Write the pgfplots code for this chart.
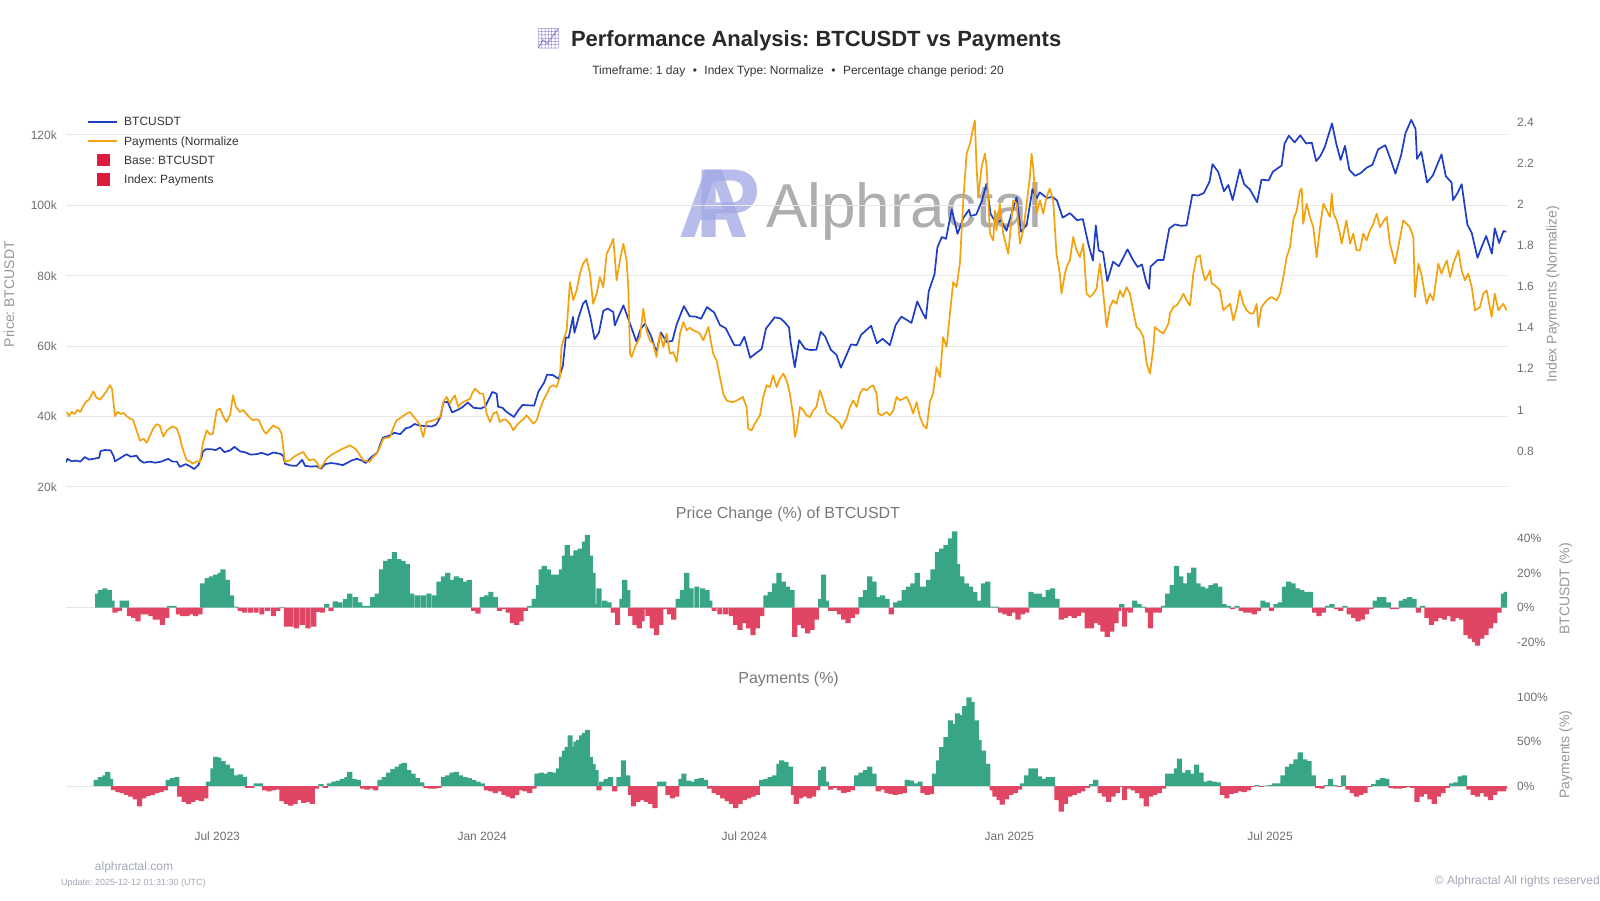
\documentclass[border=0pt]{standalone}
\usepackage{pgfplots}
\pgfplotsset{compat=1.18}
\usepackage{pgfplotstable}
\usepackage{fontspec}
\setmainfont{Liberation Sans}
\newfontfamily\emojifont{Noto Emoji}
\frenchspacing
\definecolor{btcblue}{RGB}{30,62,196}
\definecolor{payorange}{RGB}{242,162,15}
\definecolor{bargreen}{RGB}{56,165,135}
\definecolor{barred}{RGB}{224,69,100}
\definecolor{legred}{RGB}{220,28,60}
\definecolor{gridc}{RGB}{230,230,230}
\definecolor{tickc}{RGB}{110,110,110}
\definecolor{labc}{RGB}{150,150,150}
\definecolor{ptitc}{RGB}{120,120,120}
\definecolor{titc}{RGB}{40,40,40}
\definecolor{subc}{RGB}{51,51,51}
\definecolor{footc}{RGB}{160,166,180}
\definecolor{wmgray}{RGB}{160,160,160}
\definecolor{wmlogo}{RGB}{160,166,228}
\definecolor{emojic}{RGB}{140,130,200}
\newcommand{\fsz}[1]{\fontsize{#1bp}{#1bp}\selectfont}

\pgfplotstableread{
d v
76 27.0
77 28.0
80 27.3
83 27.5
86 27.2
89 28.5
92 27.8
95 28.0
99 28.3
100 30.2
103 30.5
107 30.4
109 28.8
110 27.3
114 28.3
118 29.3
121 28.6
125 28.9
127 27.7
130 26.9
134 27.2
138 26.9
142 27.2
147 28.0
150 27.2
153 27.2
155 25.7
159 26.5
162 25.9
165 25.1
168 26.3
170 28.3
171 30.0
173 30.7
177 30.7
180 30.5
183 31.2
186 29.9
190 30.4
193 31.4
197 30.1
200 29.9
204 29.2
208 29.3
212 29.7
216 29.1
220 29.8
225 29.4
227 28.7
228 26.6
232 26.1
236 26.0
240 27.7
242 26.0
246 25.8
250 25.9
253 25.2
256 26.5
260 26.8
264 26.6
268 26.2
272 27.0
274 27.5
278 28.0
282 27.4
284 26.8
288 28.5
292 29.7
295 33.0
296 34.0
300 34.5
304 35.4
308 35.0
312 36.7
315 37.0
318 37.9
322 37.4
326 37.3
330 37.2
333 37.7
336 39.9
338 44.0
341 44.2
344 41.2
348 41.9
351 42.6
355 44.0
359 42.5
364 42.3
367 42.8
372 47.0
375 46.5
376 42.8
379 42.5
382 41.3
387 39.9
390 41.8
393 43.3
397 43.2
401 43.1
404 47.1
408 49.7
410 51.9
414 51.8
418 50.7
421 54.5
423 62.5
425 62.4
428 68.3
429 63.8
432 68.3
435 72.1
437 73.0
440 68.4
443 62.0
446 63.8
449 70.0
452 70.7
456 69.7
457 65.9
463 71.6
467 67.1
472 61.3
475 64.9
478 66.4
482 63.1
486 58.3
489 63.9
493 61.2
497 61.5
500 66.2
505 71.4
509 68.5
513 68.4
517 67.8
521 71.1
526 69.6
530 66.0
534 65.1
540 60.3
544 60.3
547 62.7
551 56.7
555 58.0
559 59.2
562 65.0
566 67.1
568 68.2
572 67.9
575 66.8
578 65.3
579 61.4
582 54.0
585 61.7
589 59.3
593 58.9
597 59.0
600 64.1
603 62.8
607 59.0
611 57.5
614 53.9
618 57.6
621 60.5
625 60.3
628 63.2
635 65.8
639 60.8
643 62.1
648 60.3
652 66.0
656 68.4
660 67.4
663 66.6
667 72.7
671 69.3
673 67.8
675 75.6
679 80.4
681 88.0
684 91.0
687 90.5
691 98.9
695 91.9
699 96.4
703 98.8
704 97.0
708 97.4
712 101.4
715 106.1
718 97.5
722 94.9
725 95.8
729 92.8
732 97.0
736 102.3
739 92.5
743 94.5
747 104.6
750 102.0
752 103.7
757 102.1
761 102.4
764 101.4
768 96.5
773 97.8
778 95.8
782 96.1
786 88.7
789 84.3
791 94.3
793 87.2
796 86.7
799 78.5
803 84.0
807 82.7
813 87.5
817 84.4
820 82.5
823 83.2
826 78.2
828 76.3
829 82.6
834 84.5
838 84.5
842 93.4
846 94.6
850 94.2
854 94.3
858 103.0
862 102.8
866 103.5
870 106.8
872 111.7
876 109.5
880 104.0
883 105.8
886 101.5
891 110.2
894 106.0
898 104.5
903 100.9
906 107.3
911 107.1
914 109.6
920 111.3
922 117.5
925 119.8
929 117.9
933 119.9
937 117.6
941 117.8
944 112.6
947 114.1
950 116.6
955 123.3
958 117.4
961 112.9
964 116.9
967 110.1
971 108.4
975 109.2
979 110.7
983 111.5
987 115.9
992 117.1
996 112.7
999 109.0
1003 114.3
1006 120.5
1010 124.3
1013 121.7
1014 113.2
1017 115.2
1021 106.5
1025 108.5
1031 114.5
1034 108.3
1038 106.5
1039 101.5
1042 103.4
1045 106.0
1049 94.5
1052 92.2
1056 85.1
1059 88.3
1062 91.3
1066 86.3
1068 93.5
1071 89.3
1074 92.7
1076 92.5
}\btcdata

\pgfplotstableread{
d v
76.5 0.99
78 0.97
80 0.99
82 0.98
84 1.00
86 0.99
88 1.02
90 1.04
92 1.05
95 1.09
97 1.06
99.6 1.05
102 1.07
104 1.09
106.5 1.12
108 1.10
110 0.97
112 0.99
114 0.98
116 0.985
118 0.97
120 0.96
122.7 0.95
125 0.90
127.4 0.85
130 0.86
132 0.84
134 0.87
136.6 0.91
139 0.93
141 0.925
143.6 0.87
146 0.90
148 0.91
150 0.92
152.8 0.91
155 0.87
156 0.836
158 0.79
159.8 0.755
162 0.75
164 0.738
167 0.75
169 0.747
171 0.836
173.7 0.90
176 0.88
178 0.884
180.6 0.998
183 1.006
185 0.97
187.5 0.941
190 0.98
192 1.071
194 1.014
196.8 0.99
199 1.00
201 0.982
204 0.96
206 0.949
208 0.955
210 0.949
213 0.90
215 0.884
218 0.91
220 0.925
222 0.915
224 0.909
225.7 0.884
228 0.747
231.5 0.755
234 0.77
236 0.779
239 0.79
240.8 0.795
243 0.77
245 0.755
248 0.76
250 0.747
252.3 0.714
255 0.74
257 0.763
260 0.78
261.6 0.787
265 0.80
268 0.811
271 0.82
273 0.828
276 0.815
278 0.803
280 0.78
282.4 0.755
285 0.75
287 0.747
289 0.77
291.7 0.787
294 0.82
296.3 0.86
299 0.865
301 0.868
303 0.91
305.5 0.949
308 0.96
311 0.975
314.8 0.99
317 0.97
319.5 0.949
321.8 0.925
324 0.868
326.4 0.941
329 0.945
331 0.949
333 0.955
335.7 0.965
338 1.038
340.3 1.063
342.6 1.03
344 1.05
346 1.071
348.4 1.014
350 1.03
351.9 1.038
354 1.045
356.5 1.054
358 1.08
360 1.103
363.4 1.079
365.7 1.079
368 0.982
370.4 0.941
372.7 0.982
375 0.99
377.3 0.941
380 0.955
382 0.949
384.5 0.93
386.6 0.90
388.9 0.925
391.2 0.941
393.5 0.955
395.8 0.973
398 0.955
400.4 0.933
402.8 0.949
405 1.00
407.4 1.046
410 1.08
412 1.111
414 1.12
416.6 1.111
419 1.16
420 1.306
421.3 1.338
423.6 1.387
425.9 1.622
428.2 1.533
430.5 1.581
432.8 1.662
435 1.711
437.5 1.735
439.8 1.662
442 1.516
444.4 1.565
446.7 1.646
449 1.597
451.4 1.759
453.7 1.792
456 1.832
458.3 1.63
460.6 1.727
463 1.808
465.2 1.727
466.4 1.597
467.6 1.273
468.7 1.257
471 1.306
474.5 1.354
476.8 1.492
479 1.387
481.4 1.338
483.7 1.322
486 1.257
488.4 1.371
490.7 1.306
493 1.371
495.3 1.273
497.6 1.281
500 1.233
502.3 1.371
504.6 1.427
507 1.387
509 1.40
511.5 1.387
514 1.38
516 1.371
518.5 1.338
522 1.403
524 1.322
525.4 1.273
527.7 1.241
530 1.16
532.3 1.079
534.7 1.046
537 1.04
539.3 1.038
541.5 1.045
544 1.054
546 1.063
548.5 1.014
549.7 0.909
552 0.90
554.3 0.933
557.8 0.973
560 1.06
562.4 1.12
564.7 1.111
567 1.168
569.4 1.111
571.7 1.152
574 1.176
576.3 1.144
578.6 1.079
581 0.965
582 0.868
583.3 0.90
585.6 1.014
588 0.998
590.2 0.973
592.5 0.965
594.8 0.998
597 1.014
599.5 1.095
601.8 1.046
604 0.99
606.4 0.973
608.7 0.965
611 0.949
613.3 0.933
614.5 0.909
616 0.93
618 0.957
620.3 1.014
622.6 1.046
625 1.014
627.2 1.079
629.5 1.103
631.8 1.095
634.2 1.111
636.5 1.119
638.8 1.079
640 0.982
642.3 0.973
645.7 0.99
648 0.973
650.4 0.998
652.7 1.063
655 1.046
657.3 1.054
659.6 1.063
662 1.03
664.2 0.982
666.6 1.038
668.9 0.965
671.2 0.925
673.5 0.909
675.8 1.038
678 1.079
680.4 1.208
682.8 1.16
685 1.354
687.4 1.306
689.7 1.468
692 1.622
694.3 1.597
696.6 1.711
699 2.019
701.3 2.246
703.6 2.294
706 2.375
707 2.408
708.2 2.181
709.4 2.035
711.7 2.181
714 2.246
715.2 2.181
717.5 1.857
719.8 1.824
721 1.97
722 1.873
724.4 2.003
726.7 1.857
729 1.792
730.2 1.759
733.7 2.019
736 2.003
738.3 1.808
740.6 1.873
743 2.003
745.2 2.132
746.4 2.246
747.5 2.181
749.9 1.954
752.2 2.019
754.5 1.954
756.8 2.035
759 2.076
761.4 2.019
763.7 1.759
766 1.662
767.2 1.565
769.5 1.662
771 1.70
773 1.727
775.3 1.841
777.6 1.776
780 1.743
782.3 1.808
784.6 1.565
787 1.549
789.2 1.565
791.5 1.589
793.8 1.711
796 1.581
798.5 1.403
800.8 1.50
803 1.533
805.4 1.516
807.7 1.581
810 1.549
812.3 1.597
814.7 1.565
817 1.48
819.3 1.403
821.7 1.387
824 1.354
826.3 1.225
828.6 1.176
831 1.306
832 1.403
834.4 1.387
837.9 1.371
841.4 1.419
842.5 1.468
844.8 1.50
847.2 1.508
849.5 1.533
851.8 1.565
854 1.533
856.4 1.508
858.7 1.662
861 1.743
863.4 1.751
864.5 1.695
866.8 1.63
868.5 1.65
870.3 1.678
871.5 1.614
873.8 1.605
877.2 1.581
879.6 1.484
881.9 1.50
884.2 1.516
886.5 1.435
889 1.50
891 1.581
893.4 1.516
895.7 1.484
898 1.47
900.4 1.468
902.7 1.516
903.8 1.403
906 1.50
909.6 1.533
913 1.549
916.6 1.533
918.9 1.565
921.2 1.646
923.5 1.743
925.8 1.792
928.1 1.922
930.5 1.97
932.8 2.067
934 2.076
935 1.905
937.4 2.003
939.7 1.938
942 1.889
944.3 1.743
946.7 1.889
949 2.003
951.3 1.97
953.6 1.938
954.8 2.051
956 1.954
958.2 1.922
960.5 1.857
961.7 1.808
965 1.922
967.5 1.808
969.8 1.857
972 1.776
974.4 1.776
976.7 1.857
979 1.824
981.4 1.873
983.7 1.905
986 1.954
988.3 1.889
991 1.92
993 1.938
995.2 1.808
997.6 1.743
998.7 1.711
1001 1.792
1004.5 1.922
1006.8 1.905
1009 1.889
1011.5 1.841
1012.6 1.549
1015 1.711
1017 1.662
1019 1.58
1020.7 1.516
1023 1.565
1025.3 1.533
1028.8 1.711
1031 1.662
1034.6 1.727
1037 1.646
1039.2 1.711
1042.7 1.776
1045 1.678
1047.3 1.63
1049.6 1.662
1052 1.597
1054.3 1.484
1057.7 1.50
1060 1.565
1062.4 1.581
1065.8 1.452
1068 1.565
1070.5 1.484
1072 1.50
1074 1.516
1076.2 1.484
}\paydata

\pgfplotstableread{
d v
98 8
100 10
103 11
106 10
108 4
110 -3
113 -2
115 4
118 4
120 -5
123 -6
126 -8
129 -4
132 -4
135 -5
138 -7
141 -7
143 -10
146 -6
148 1
151 1
154 -4
157 -5
160 -5
163 -4
166 -5
169 -4
171 14
174 17
177 18
180 19
183 20
185 22
188 16
191 7
194 0.5
197 -2
200 -3
204 -3
208 -3
212 -4
216 -2
220 -5
223 -2
226 0.3
229 -11
232 -11
236 -12
240 -10
244 -12
248 -11
251 -2.5
254 -3
257 2
260 -2
263 3.5
266 3
270 5
273 8
277 6
280 3
283 1
286 1
289 6
292 8
295 22
298 27
301 28
304 32
307 28
310 27
313 25
316 8
320 7
324 7
328 8
332 7
335 15
338 18
341 20
344 16
347 18
350 17
353 15
356 16
359 -2
362 -3.5
365 6
368 7
371 9
374 6
377 -2
380 -1
383 -3
386 -9
389 -10
392 -8
395 -2
398 1
401 5
404 13
406 22
408 24
411 22
414 19
417 19
420 22
422 30
424 36
427 30
430 33
433 34
436 38
438 42
440 30
442 20
444 2
446 11
448 0.5
450 4
453 3
456 -3
459 -10
462 5
464 16
466 10
468 -5
471 -10
474 -12
476 -8
478 -1
480 -5
483 -12
486 -16
489 -10
492 -1
495 -4
498 -7
501 5
504 10
507 20
510 11
514 12
518 11
521 10
523 4
526 -2
530 -4
534 -4
538 -5
541 -10
544 -13
547 -9
550 -12
553 -16
556 -12
559 -5
562 7
565 9
568 14
571 20
574 15
577 12
580 10
582 -17
585 -10
588 -12
591 -15
594 -13
597 -7
600 5
602 19
604 4
607 -2
610 -2
613 -4
616 -7
619 -9
622 -6
625 -4
628 6
631 10
634 18
637 15
640 6
643 7
646 5
649 -4
652 3
655 4
658 10
661 12
664 14
667 20
669 12
672 12
675 16
678 22
681 32
684 34
687 36
690 40
693 44
695 25
698 18
701 14
704 12
707 9
710 4
713 14
716 15
719 0.5
722 0.5
725 -3
728 -4
731 -5
734 -3
737 -7
740 -4
743 -3
746 9
749 8
752 8
755 6
758 10
761 11
764 5
767 -7
770 -6
773 -5
776 -6
779 -5
782 -3
785 -12
788 -12
791 -9
794 -10
796 -14
799 -17
802 -14
805 -9
807 -2
809 2
811 -11
813 -2
815 -3
818 4
821 2
824 0.5
827 -3
829 -12
832 -3
835 -3
838 1
841 8
844 13
847 24
850 18
853 14
856 20
859 23
862 14
865 12
868 11
871 13
874 14
877 12
880 2
883 1
886 -1
889 1
892 -2
895 -3
898 -3
901 -4
904 -2
907 4
910 3
913 -2
916 2
919 3
922 12
925 15
928 14
931 11
934 10
937 9
940 9
943 -3
946 -5
949 -3
952 1
955 2
958 -1
961 -2
964 1
967 -4
970 -6
973 -8
976 -7
979 -4
982 -1
985 4
988 6
991 6
994 3
997 -1
1000 -1
1003 4
1006 5
1009 6
1012 5
1015 -3
1018 1
1021 -6
1024 -10
1027 -8
1030 -6
1033 -7
1036 -5
1039 -8
1042 -6
1045 -7
1048 -16
1051 -18
1054 -20
1056 -22
1059 -18
1062 -16
1065 -12
1068 -9
1071 -3
1074 8
1076 9
}\btcpct

\pgfplotstableread{
d v
97 7
100 10
103 12
105 16
107 8
109 -4.5
112 -7
115 -8
118 -10
121 -12
124 -15
127 -23
130 -14
133 -11
136 -10
139 -8
142 -7
145 -5
147 7
150 9
153 10
155 -12
158 -18
161 -20
164 -18
167 -16
170 -17
173 -14
175 5
178 20
180 33
182 32
185 28
188 24
191 20
194 12
197 13
200 10
202 -2
205 -2
208 3
211 3
214 -5
217 -6
220 -5
223 -4
226 -17
229 -20
232 -22
235 -20
238 -16
241 -19
244 -18
247 -20
250 -3
253 2
256 -2
259 3
262 5
265 6
268 8
271 10
273 16
276 8
279 7
282 -3
285 -4
288 -3
291 -5
294 7
297 10
300 15
303 19
306 22
309 25
311 26
314 18
317 14
320 9
323 4
326 -2
329 -3
332 -3
335 -2
338 10
341 12
344 15
347 16
350 12
353 10
356 9
359 7
362 5
365 3
368 -5
371 -6
374 -8
377 -6
380 -10
383 -12
386 -14
389 -10
392 -5
395 -6
398 -8
401 -3
403 14
406 15
409 14
412 16
415 15
418 20
420 33
422 40
424 44
426 57
428 44
430 50
432 52
434 57
436 60
438 63
440 33
442 25
444 18
446 -5
448 5
451 8
454 10
457 -6
460 10
463 29
466 12
468 -10
470 -23
473 -18
476 -16
479 -18
482 -20
485 -25
488 5
491 5
494 -10
497 -14
500 -12
503 8
505 14
508 6
511 5
514 8
517 9
520 7
523 -3
526 -8
529 -10
532 -14
535 -17
538 -20
541 -25
544 -20
547 -16
550 -14
553 -12
556 -10
559 7
562 8
565 10
568 12
571 25
573 29
576 27
579 22
581 -10
583 -20
586 -14
589 -12
592 -14
595 -12
598 -5
600 18
602 22
604 5
607 -4
610 -2
613 -5
616 -8
619 -7
622 -5
625 12
628 15
631 18
634 22
637 14
640 -6
643 -4
646 -8
649 -9
652 -10
655 -9
658 -8
660 7
663 6
666 3
669 5
671 -8
674 -10
677 -9
679 14
682 29
684 44
687 55
690 74
692 70
695 82
698 80
700 90
703 100
705 95
708 74
710 52
713 40
716 25
719 -5
721 -12
724 -16
726 -21
729 -15
732 -10
735 -8
738 -4
740 3
743 12
746 20
749 20
752 11
755 8
758 10
761 10
764 -16
767 -29
770 -20
773 -12
776 -10
779 -8
782 -6
785 -2
788 2
791 7
794 -8
797 -12
800 -18
803 -12
806 -8
808 -1
811 -16
814 -3
817 -5
820 -8
823 -14
826 -23
829 -12
832 -10
835 -8
838 -3
841 14
844 14
847 20
849 31
852 15
855 18
858 14
861 24
864 15
867 5
870 6
873 5
876 4
879 -10
882 -14
885 -9
888 -8
891 -6
894 -7
897 -5
900 -1
903 1
906 -1
909 0.5
912 1
915 3
918 3
921 12
924 22
927 25
930 30
933 38
936 30
939 28
942 12
945 -2
948 -3
951 1
954 8
957 1
960 -1
963 12
966 -4
969 -8
972 -12
975 -10
978 -8
981 -1
984 2
987 7
990 9
993 8
996 -2
999 -3
1002 -3
1005 -2
1008 -1
1011 -2
1014 -18
1017 -12
1020 -9
1023 -15
1026 -20
1029 -12
1032 -8
1035 -2
1038 3
1041 4
1044 11
1047 12
1050 -4
1053 -10
1056 -12
1059 -8
1062 -12
1065 -16
1068 -10
1071 -6
1074 -6
1076 -3
}\paypct

\begin{document}
\begin{tikzpicture}[x=1bp,y=1bp]
\path (0,0) rectangle (1600,900);

% watermark
\node[anchor=base west, inner sep=0, text=wmlogo, opacity=0.75, font=\fsz{98}\bfseries] at (678,662) {A\kern-0.55em P};
\node[anchor=base west, inner sep=0, text=wmgray, opacity=0.85, font=\fsz{62}] at (766,672) {Alphractal};

% titles
\node[anchor=center, inner sep=0, text=emojic, font=\emojifont\fsz{20}] at (548.5,861.7) {📈};
\node[anchor=base west, inner sep=0, text=titc, font=\fsz{22}\bfseries] at (570.8,853.8) {Performance Analysis: BTCUSDT vs Payments};
\node[anchor=base, inner sep=0, text=subc, font=\fsz{12}] at (798.1,825) {Timeframe: 1 day\hspace{7.5bp}•\hspace{7.5bp}Index Type: Normalize\hspace{7.5bp}•\hspace{7.5bp}Percentage change period: 20};

% top panel: BTC (left axis)
\begin{axis}[
  at={(66bp,413bp)}, anchor=south west,
  width=1441bp, height=372bp, scale only axis,
  xmin=76, xmax=1076.5, ymin=20, ymax=125.68,
  axis y line*=left, axis x line*=bottom,
  axis line style={draw=none}, major tick length=0pt,
  xtick=\empty,
  ytick={20,40,60,80,100,120},
  yticklabels={20k,40k,60k,80k,100k,120k},
  ymajorgrids, grid style={gridc, line width=1bp},
  yticklabel style={font=\fsz{12}, text=tickc, inner sep=0pt, xshift=-9bp},
  legend image code/.code={\draw[#1] (0bp,4.3bp) -- (29bp,4.3bp);},
  legend style={at={(0.01457,0.9987)}, anchor=north west, draw=none, fill=none,
    inner sep=0pt, outer sep=0pt, row sep=5.6bp, column sep=6.5bp,
    font=\fsz{12}, text=subc,
    cells={anchor=base west},
    nodes={inner sep=0pt, text height=10.5bp, text depth=3bp}},
]
\addplot[btcblue, line width=1.7bp, line join=round] table[x=d,y=v]{\btcdata};
\addlegendentry{BTCUSDT}
\addlegendimage{payorange, line width=1.7bp}
\addlegendentry{Payments (Normalize}
\addlegendimage{legend image code/.code={\fill[legred] (9.7bp,-1.5bp) rectangle (21.3bp,10.1bp);}}
\addlegendentry{Base: BTCUSDT}
\addlegendimage{legend image code/.code={\fill[legred] (9.7bp,-1.5bp) rectangle (21.3bp,10.1bp);}}
\addlegendentry{Index: Payments}
\end{axis}

% top panel: Payments (right axis)
\begin{axis}[
  at={(66bp,413bp)}, anchor=south west,
  width=1441bp, height=372bp, scale only axis,
  xmin=76, xmax=1076.5, ymin=0.625, ymax=2.434,
  axis y line*=right, axis x line=none,
  axis line style={draw=none}, major tick length=0pt,
  xtick=\empty,
  ytick={0.8,1,1.2,1.4,1.6,1.8,2,2.2,2.4},
  yticklabels={0.8,1,1.2,1.4,1.6,1.8,2,2.2,2.4},
  yticklabel style={font=\fsz{12}, text=tickc, inner sep=0pt, anchor=west, xshift=10bp},
]
\addplot[payorange, line width=1.7bp, line join=round] table[x=d,y=v]{\paydata};
\end{axis}

% middle panel: BTC % change
\begin{axis}[
  at={(66bp,247.5bp)}, anchor=south west,
  width=1441bp, height=124.6bp, scale only axis,
  xmin=76, xmax=1076.5, ymin=-26, ymax=46,
  axis y line*=right, axis x line=none,
  axis line style={draw=none}, major tick length=0pt,
  xtick=\empty,
  ytick={-20,0,20,40},
  yticklabels={-20\%,0\%,20\%,40\%},
  yticklabel style={font=\fsz{12}, text=tickc, inner sep=0pt, anchor=west, xshift=10bp},
]
\draw[gridc, line width=1bp] (axis cs:76,0) -- (axis cs:1076.5,0);
\addplot[ybar, bar width=3.6, bar shift=0pt, draw=none, fill=bargreen, restrict y to domain=0:200] table[x=d,y=v]{\btcpct};
\addplot[ybar, bar width=3.6, bar shift=0pt, draw=none, fill=barred, restrict y to domain=-200:0] table[x=d,y=v]{\btcpct};
\end{axis}

% bottom panel: Payments % change
\begin{axis}[
  at={(66bp,85.6bp)}, anchor=south west,
  width=1441bp, height=120.6bp, scale only axis,
  xmin=76, xmax=1076.5, ymin=-32, ymax=104,
  axis y line*=right, axis x line*=bottom,
  axis line style={draw=none}, major tick length=0pt,
  xtick={181,365,547,731,912},
  xticklabels={Jul 2023,Jan 2024,Jul 2024,Jan 2025,Jul 2025},
  xticklabel style={font=\fsz{12}, text=tickc, inner sep=0pt, anchor=center, yshift=-22.3bp},
  ytick={0,50,100},
  yticklabels={0\%,50\%,100\%},
  yticklabel style={font=\fsz{12}, text=tickc, inner sep=0pt, anchor=west, xshift=10bp},
]
\draw[gridc, line width=1bp] (axis cs:76,0) -- (axis cs:1076.5,0);
\addplot[ybar, bar width=3.6, bar shift=0pt, draw=none, fill=bargreen, restrict y to domain=0:200] table[x=d,y=v]{\paypct};
\addplot[ybar, bar width=3.6, bar shift=0pt, draw=none, fill=barred, restrict y to domain=-200:0] table[x=d,y=v]{\paypct};
\end{axis}

% axis titles
\node[rotate=90, anchor=center, inner sep=0, text=labc, font=\fsz{14}] at (9.2,605.8) {Price: BTCUSDT};
\node[rotate=90, anchor=center, inner sep=0, text=labc, font=\fsz{14}] at (1553,606) {Index Payments (Normalize)};
\node[rotate=90, anchor=center, inner sep=0, text=labc, font=\fsz{14}] at (1565.7,311) {BTCUSDT (\%)};
\node[rotate=90, anchor=center, inner sep=0, text=labc, font=\fsz{14}] at (1565.7,145.5) {Payments (\%)};
\node[anchor=base, inner sep=0, text=ptitc, font=\fsz{16}] at (788,381.6) {Price Change (\%) of BTCUSDT};
\node[anchor=base, inner sep=0, text=ptitc, font=\fsz{16}] at (788.6,216) {Payments (\%)};

% footer
\node[anchor=center, inner sep=0, text=footc, font=\fsz{12}] at (134,32.7) {alphractal.com};
\node[anchor=center, inner sep=0, text=footc, font=\fsz{9}] at (133.4,16.7) {Update: 2025-12-12 01:31:30 (UTC)};
\node[anchor=east, inner sep=0, text=footc, font=\fsz{12}] at (1600,18.3) {© Alphractal All rights reserved};
\end{tikzpicture}
\end{document}
